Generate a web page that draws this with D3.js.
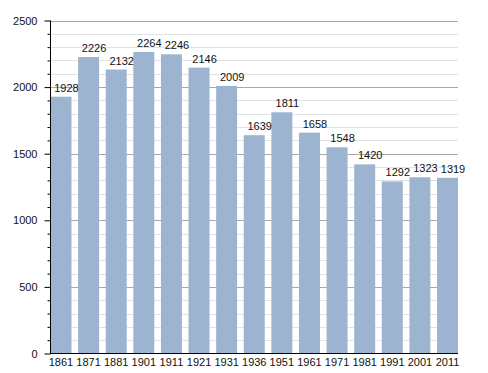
<!DOCTYPE html>
<meta charset="utf-8">
<script src="https://d3js.org/d3.v7.min.js"></script>
<style>
  body { margin: 0; background: #fff; }
  text { font-family: "Liberation Sans", Arial, sans-serif; font-size: 11px; fill: #111; }
</style>
<svg id="chart" width="488" height="373"></svg>
<script>

// Data
var years = ["1861","1871","1881","1901","1911","1921","1931","1936","1951","1961","1971","1981","1991","2001","2011"];
var population = [1928, 2226, 2132, 2264, 2246, 2146, 2009, 1639, 1811, 1658, 1548, 1420, 1292, 1323, 1319];
var majorTicks = [0, 500, 1000, 1500, 2000, 2500];
var minorTicks = d3.range(0, 2501, 100);

var svg = d3.select("#chart");

// plot edges (note: "top" is reserved on window)
var plotLeft = 50.5, plotRight = 458, plotTop = 20.5, plotBottom = 353.5;

var x = d3.scaleBand()
    .domain(years)
    .range([plotLeft, plotRight])
    .paddingInner(0.24)
    .paddingOuter(0);

var y = d3.scaleLinear()
    .domain([0, 2500])
    .range([plotBottom, plotTop]);

// minor gridlines
svg.append("g")
  .selectAll("line")
  .data(minorTicks.filter(function(d){ return d % 500 !== 0; }))
  .enter().append("line")
    .attr("x1", plotLeft).attr("x2", plotRight)
    .attr("y1", function(d){ return Math.round(y(d)) + 0.5; })
    .attr("y2", function(d){ return Math.round(y(d)) + 0.5; })
    .style("stroke", "#e2e2e2")
    .style("stroke-width", 1);

// major gridlines
svg.append("g")
  .selectAll("line")
  .data(majorTicks.filter(function(d){ return d > 0; }))
  .enter().append("line")
    .attr("x1", plotLeft).attr("x2", plotRight)
    .attr("y1", function(d){ return Math.round(y(d)) + 0.5; })
    .attr("y2", function(d){ return Math.round(y(d)) + 0.5; })
    .style("stroke", "#a8a8a8")
    .style("stroke-width", 1);

// bars
svg.append("g")
  .selectAll("rect")
  .data(population)
  .enter().append("rect")
    .attr("x", function(d, i){ return x(years[i]); })
    .attr("width", x.bandwidth())
    .attr("y", function(d){ return y(d); })
    .attr("height", function(d){ return plotBottom - y(d); })
    .style("fill", "#9cb4d0");

// value labels (sit a little right of bar centre, like the original)
svg.append("g")
  .selectAll("text")
  .data(population)
  .enter().append("text")
    .attr("x", function(d, i){ return x(years[i]) + x.bandwidth() / 2 + 5.5; })
    .attr("y", function(d){ return y(d) - 5; })
    .attr("text-anchor", "middle")
    .text(function(d){ return d; });

// y axis
var yAxis = svg.append("g")
    .attr("transform", "translate(" + plotLeft + ",0)")
    .call(d3.axisLeft(y).tickValues(majorTicks).tickSize(6).tickPadding(7).tickFormat(d3.format("d")));
yAxis.select(".domain").attr("stroke", "#000").attr("d", "M0," + plotTop + "V" + plotBottom);
yAxis.selectAll(".tick line").attr("stroke", "#000");

svg.append("g")
    .attr("transform", "translate(" + plotLeft + ",0)")
    .call(d3.axisLeft(y).tickValues(minorTicks.filter(function(d){ return d % 500 !== 0; })).tickSize(3).tickFormat(""))
    .call(function(g){ g.select(".domain").remove(); })
    .selectAll(".tick line").attr("stroke", "#000");

// x axis
var xAxis = svg.append("g")
    .attr("transform", "translate(0," + plotBottom + ")")
    .call(d3.axisBottom(x).tickSize(0).tickPadding(5).tickSizeOuter(0));
xAxis.select(".domain").attr("stroke", "#000").attr("d", "M" + (plotLeft - 0.5) + ",0H" + plotRight);

svg.selectAll(".tick text").style("font-family", "'Liberation Sans', Arial, sans-serif").style("font-size", "11px").attr("fill", "#111");

</script>
